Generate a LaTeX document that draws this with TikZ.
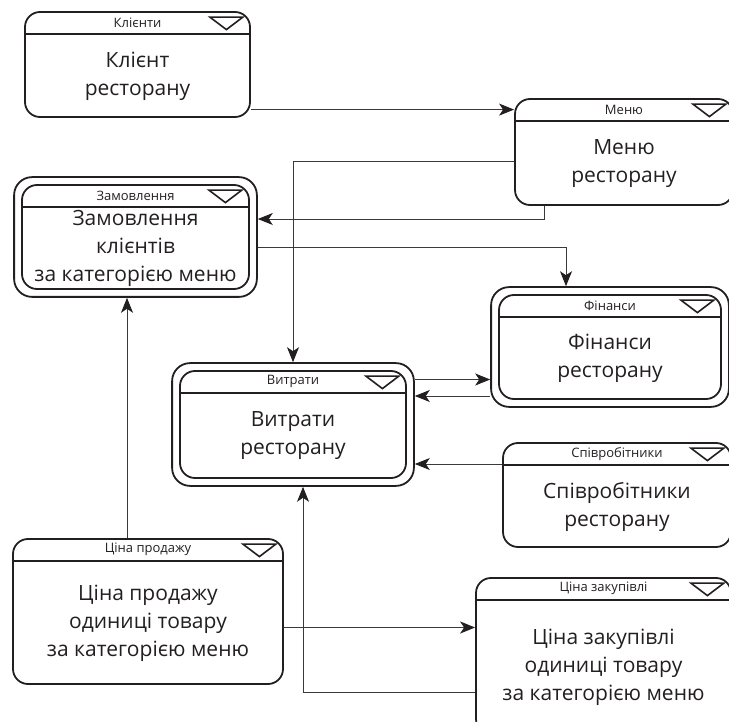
\documentclass[tikz,border=0pt]{standalone}
\usepackage{fontspec}
\setmainfont{Open Sans}
\usetikzlibrary{arrows.meta,positioning,calc,fit}
\definecolor{EntLine}{HTML}{231F20}
\definecolor{ConLine}{HTML}{3A3A3A}

\begin{document}
\begin{tikzpicture}[x=1pt,y=-1pt,
    box/.style={draw=EntLine, line width=1.8pt, rounded corners=15pt},
    ent/.style 2 args={box, minimum width=#1, minimum height=#2, inner sep=0pt},
    outer/.style={box, rounded corners=18pt, inner sep=7pt},
    hdr/.style={font=\fontsize{13}{15}\selectfont, text=EntLine},
    body/.style={font=\fontsize{21}{28}\selectfont, text=EntLine, align=center},
    con/.style={draw=ConLine, line width=0.9pt,
      -{Stealth[length=15pt,width=12pt,inset=4pt,color=EntLine]}}
  ]
  \useasboundingbox (0,0) rectangle (729,722);
  \clip (0,0) rectangle (729,722);

  % Entities
  \node[ent={225}{105}] (klient)  at (137.5,64.5) {};
  \node[ent={218}{106}] (menu)    at (624,152)    {};
  \node[ent={227}{104}] (zamov)   at (135.5,237)  {};
  \node[ent={222}{104}] (finance) at (610,347)    {};
  \node[ent={226}{107}] (vytraty) at (293,424.5)  {};
  \node[ent={228}{104}] (spivr)   at (617,495)    {};
  \node[ent={270}{145}] (prodazh) at (148,611.5)  {};
  \node[ent={255}{156}] (zakup)   at (603.5,656)  {};

  % Double borders
  \node[outer, fit=(zamov)]   (zamov-o)   {};
  \node[outer, fit=(finance)] (finance-o) {};
  \node[outer, fit=(vytraty)] (vytraty-o) {};

  % Header bars, labels and texts
  \foreach \b/\h/\t in {
      klient/Клієнти/{Клієнт\\ресторану},
      menu/Меню/{Меню\\ресторану},
      zamov/Замовлення/{Замовлення\\клієнтів\\за категорією меню},
      finance/Фінанси/{Фінанси\\ресторану},
      vytraty/Витрати/{Витрати\\ресторану},
      spivr/Співробітники/{Співробітники\\ресторану},
      prodazh/Ціна продажу/{Ціна продажу\\одиниці товару\\за категорією меню},
      zakup/Ціна закупівлі/{Ціна закупівлі\\одиниці товару\\за категорією меню}} {
    \draw[box, line width=1.5pt]
      ([yshift=-23pt]\b.north west) -- ([yshift=-23pt]\b.north east);
    \draw[box, line width=1.6pt, rounded corners=0pt]
      ([xshift=-41pt,yshift=-6pt]\b.north east) -- ++(33,0) -- ++(-16.5,12.5) -- cycle;
    \node[hdr] (\b-h) at ([yshift=-11.5pt]\b.north) {\h};
    \node[body] (\b-t) at ($([yshift=-23pt]\b.north)!0.5!(\b.south)$) {\t};
  }

  % Connectors
  \draw[con] (klient.east |- menu-h) -- (menu-h -| menu.west);
  \draw[con] ([xshift=-80pt]menu.south) |- ([yshift=18pt]zamov-o.east);
  \draw[con] ([yshift=-9pt]menu.west) -| (vytraty-o.north);
  \draw[con] ([yshift=-10pt]zamov-o.east) -| ([xshift=-44pt]finance-o.north);
  \draw[con] ([xshift=-21pt]prodazh.north)
    -- ([xshift=-21pt]prodazh.north |- zamov-o.south);
  \draw[con] ([yshift=45pt]vytraty-o.east)
    -- ([yshift=45pt]vytraty-o.east -| finance-o.west);
  \draw[con] ([yshift=-49pt]finance-o.west)
    -- ([yshift=-49pt]finance-o.west -| vytraty-o.east);
  \draw[con] ([yshift=31pt]spivr.west)
    -- ([yshift=31pt]spivr.west -| vytraty-o.east);
  \draw[con] ([yshift=-16pt]prodazh.east)
    -- ([yshift=-16pt]prodazh.east -| zakup.west);
  \draw[con] ([yshift=-36pt]zakup.west) -| ([xshift=10pt]vytraty-o.south);

\end{tikzpicture}
\end{document}
